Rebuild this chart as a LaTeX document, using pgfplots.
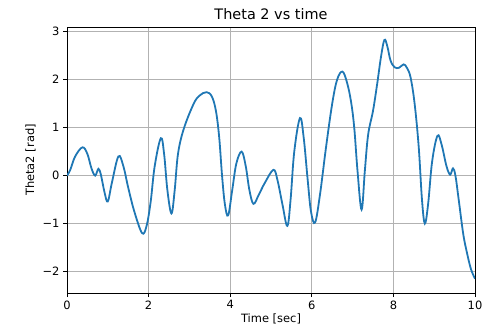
\documentclass[border=0pt]{standalone}
\usepackage{pgfplots}
\pgfplotsset{compat=1.18}
\usepackage{fontspec}
\setmainfont{DejaVu Sans}
\definecolor{mplblue}{HTML}{1F77B4}
\begin{document}
\begin{tikzpicture}[x=1bp,y=1bp]
\begin{axis}[
  scale only axis,
  width=408bp, height=266bp,
  xmin=0, xmax=10, ymin=-2.45, ymax=3.1,
  xtick={0,2,4,6,8,10},
  ytick={-2,-1,0,1,2,3},
  yticklabels={−2,−1,0,1,2,3},
  tick align=outside,
  xtick pos=bottom, ytick pos=left,
  major tick length=4bp,
  grid=major,
  grid style={color=black!30, line width=0.8bp},
  axis line style={line width=0.8bp},
  every tick/.style={black, line width=0.8bp},
  /pgf/number format/assume math mode=true,
  ticklabel style={font=\fontsize{11.5}{13}\selectfont},
  label style={font=\fontsize{11.5}{13}\selectfont},
  title style={font=\fontsize{14.5}{17}\selectfont, yshift=-2bp},
  title={Theta 2 vs time},
  xlabel={Time [sec]},
  ylabel={Theta2 [rad]},
  xlabel style={yshift=2bp},
  ylabel style={yshift=0bp},
]
\addplot[mplblue, line width=1.8bp, smooth, tension=0.6] coordinates {
  (0,0) (0.08,0.12) (0.2,0.4) (0.38,0.59) (0.5,0.45) (0.6,0.15)
  (0.69,0.0) (0.77,0.14) (0.83,0.02) (0.92,-0.35) (1.0,-0.54)
  (1.1,-0.15) (1.26,0.40) (1.38,0.2) (1.5,-0.25) (1.65,-0.75)
  (1.84,-1.2) (1.95,-1.05) (2.05,-0.55) (2.15,0.2) (2.30,0.78)
  (2.38,0.45) (2.46,-0.3) (2.56,-0.79) (2.64,-0.3) (2.72,0.45)
  (2.86,0.97) (3.10,1.49) (3.25,1.67) (3.42,1.74) (3.55,1.65)
  (3.65,1.35) (3.73,0.8) (3.8,0.0) (3.87,-0.6) (3.95,-0.83)
  (4.05,-0.3) (4.15,0.25) (4.28,0.50) (4.38,0.2) (4.47,-0.3)
  (4.57,-0.59) (4.7,-0.4) (4.85,-0.15) (5.06,0.12) (5.16,-0.1)
  (5.28,-0.6) (5.40,-1.05) (5.48,-0.5) (5.57,0.5) (5.71,1.2)
  (5.8,0.8) (5.9,-0.1) (5.98,-0.75) (6.08,-0.98) (6.2,-0.4)
  (6.35,0.6) (6.5,1.5) (6.62,2.0) (6.75,2.17) (6.86,1.95)
  (6.96,1.55) (7.04,1.0) (7.12,0.1) (7.22,-0.71) (7.3,0.1)
  (7.38,0.85) (7.5,1.35) (7.6,1.9) (7.7,2.5) (7.78,2.83)
  (7.85,2.7) (7.93,2.4) (8.03,2.26) (8.14,2.25) (8.25,2.32)
  (8.33,2.25) (8.42,2.05) (8.52,1.5) (8.62,0.6) (8.7,-0.5)
  (8.77,-1.0) (8.85,-0.6) (8.95,0.3) (9.08,0.83) (9.18,0.65)
  (9.3,0.2) (9.39,0.02) (9.46,0.15) (9.52,0.0) (9.6,-0.5)
  (9.71,-1.21) (9.8,-1.6) (9.9,-1.95) (10,-2.15)
};
\end{axis}
\path (-67,-40) rectangle (424,293);
\end{tikzpicture}
\end{document}
